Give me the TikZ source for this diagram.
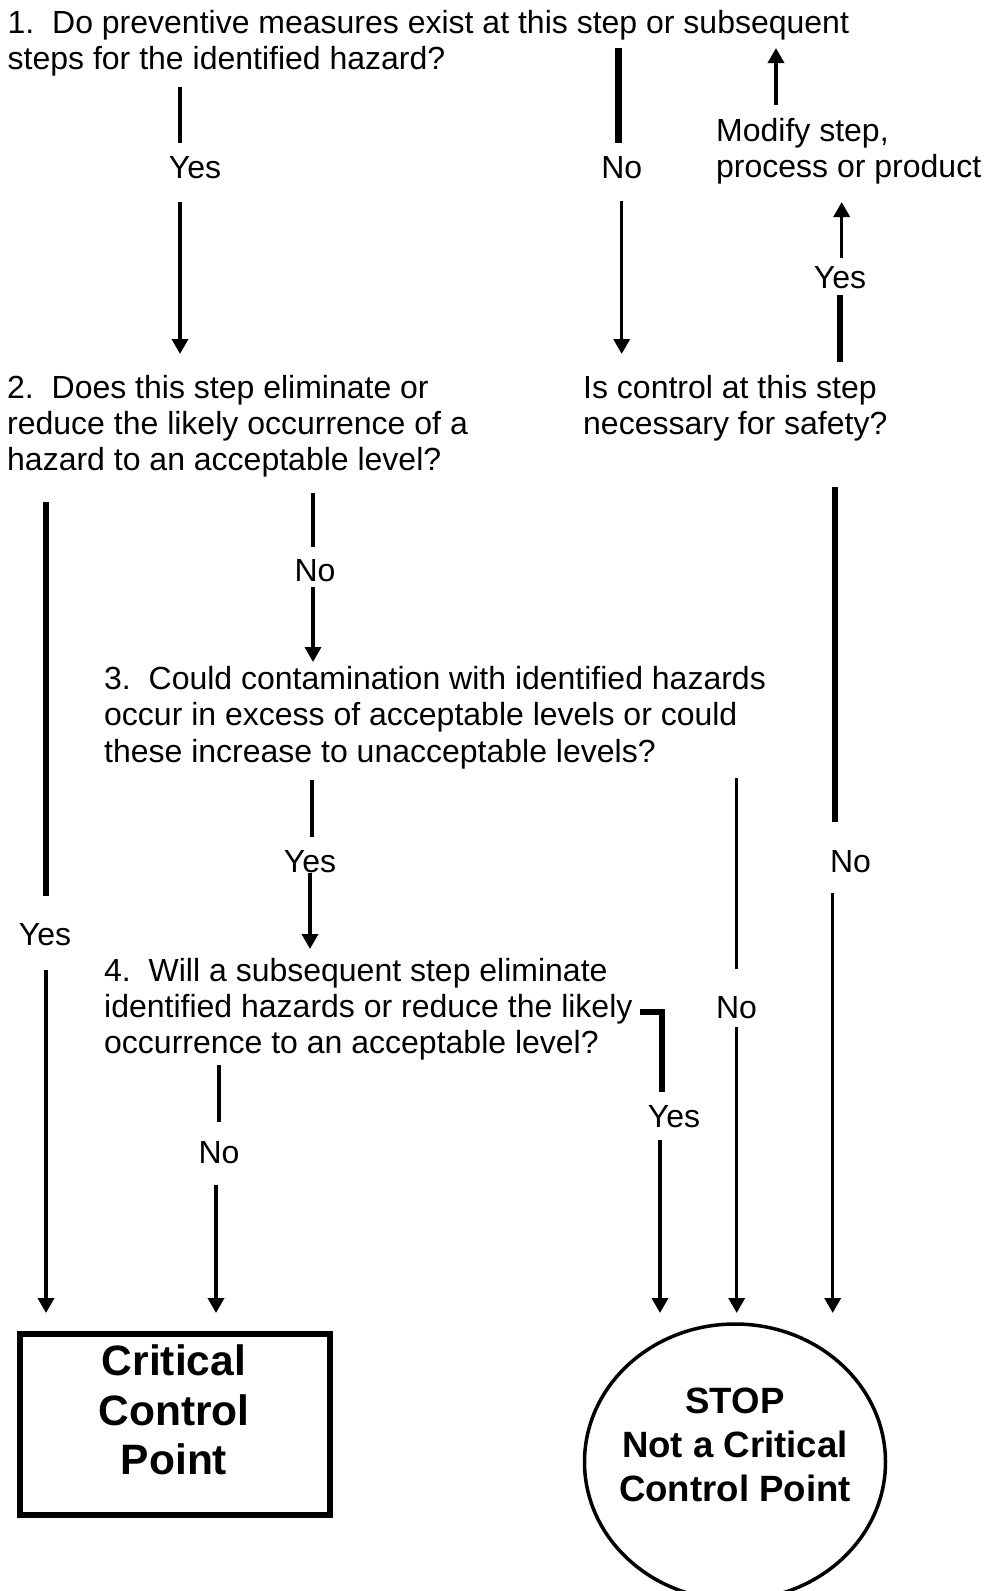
\documentclass[tikz,border=0pt]{standalone}
\usepackage{fontspec}
\setmainfont{Liberation Sans}
\usetikzlibrary{arrows.meta,shapes.geometric}
\begin{document}
\begin{tikzpicture}[x=1pt,y=-1pt,
  txt/.style={inner sep=0pt, anchor=base west, font=\fontsize{32}{36.3}\selectfont},
  lbl/.style={inner sep=0pt, anchor=base, font=\fontsize{32}{36.3}\selectfont},
  heavyline/.style={line width=6.5pt},
  midline/.style={line width=4.5pt},
  slimline/.style={line width=3.5pt},
  flowarrow/.style={line width=3.5pt, -{Triangle[width=16pt,length=15pt]}},
]
\clip (0,0) rectangle (985,1591);
\fill[white] (0,0) rectangle (985,1591);

% question texts
\node[txt] (q1) at (7.5,33.5) {\begin{tabular}[t]{@{}l@{}}1.\ \ Do preventive measures exist at this step or subsequent\\steps for the identified hazard?\end{tabular}};
\node[txt] (mod) at (716,141.5) {\begin{tabular}[t]{@{}l@{}}Modify step,\\process or product\end{tabular}};
\node[txt] (q2) at (7,398) {\begin{tabular}[t]{@{}l@{}}2.\ \ Does this step eliminate or\\reduce the likely occurrence of a\\hazard to an acceptable level?\end{tabular}};
\node[txt] (qc) at (583,398) {\begin{tabular}[t]{@{}l@{}}Is control at this step\\necessary for safety?\end{tabular}};
\node[txt] (q3) at (104,689.5) {\begin{tabular}[t]{@{}l@{}}3.\ \ Could contamination with identified hazards\\occur in excess of acceptable levels or could\\these increase to unacceptable levels?\end{tabular}};
\node[txt] (q4) at (104,981) {\begin{tabular}[t]{@{}l@{}}4.\ \ Will a subsequent step eliminate\\identified hazards or reduce the likely\\occurrence to an acceptable level?\end{tabular}};

% labels
\node[lbl] (l1yes) at (195,178.5) {Yes};
\node[lbl] (l1no) at (621.7,178.5) {No};
\node[lbl] (lmyes) at (840,288) {Yes};
\node[lbl] (l2no) at (315,581) {No};
\node[lbl] (l3yes) at (310,872) {Yes};
\node[lbl] (lcno) at (850.5,872) {No};
\node[lbl] (l2yes) at (45,945) {Yes};
\node[lbl] (l3no) at (736.5,1018) {No};
\node[lbl] (l4yes) at (674,1127) {Yes};
\node[lbl] (l4no) at (219,1163) {No};

% end nodes
\node[draw, line width=6pt, minimum width=310pt, minimum height=181pt, inner sep=0pt] (ccp) at (175,1424.5) {};
\node[inner sep=0pt, anchor=base, font=\fontsize{42.5}{49.7}\selectfont\bfseries] (ccptext) at (174,1375.5)
      {\begin{tabular}[t]{@{}c@{}}Critical\\Control\\Point\end{tabular}};
\node[draw, ellipse, line width=3.5pt, minimum width=301pt, minimum height=276pt, inner sep=0pt] (stop) at (735,1462) {};
\node[inner sep=0pt, anchor=base, font=\fontsize{36.6}{44}\selectfont\bfseries] (stoptext) at (735,1413)
      {\begin{tabular}[t]{@{}c@{}}STOP\\Not a Critical\\Control Point\end{tabular}};

% connector points
\coordinate (a1) at (180,87);   \coordinate (a2) at (180,143);
\coordinate (a3) at (180,202);  \coordinate (a4) at (180,354);
\coordinate (b1) at (618.3,48); \coordinate (b2) at (618.3,143);
\coordinate (b3) at (621.7,201);\coordinate (b4) at (621.7,354);
\coordinate (c1) at (776,105);  \coordinate (c2) at (776,48);
\coordinate (d1) at (840,362);  \coordinate (d2) at (840,295);
\coordinate (d3) at (841.7,258);\coordinate (d4) at (841.7,202);
\coordinate (e1) at (46,502);   \coordinate (e2) at (46,896);
\coordinate (e3) at (46,970);   \coordinate (e4) at (46,1313);
\coordinate (f1) at (313,493);  \coordinate (f2) at (313,547);
\coordinate (f3) at (313,587);  \coordinate (f4) at (313,662);
\coordinate (g1) at (835,487);  \coordinate (g2) at (835,822);
\coordinate (g3) at (832.7,893);\coordinate (g4) at (832.7,1313);
\coordinate (h1) at (312,780);  \coordinate (h2) at (312,837);
\coordinate (h3) at (310,873);  \coordinate (h4) at (310,949);
\coordinate (i1) at (736.7,778);\coordinate (i2) at (736.7,969);
\coordinate (i3) at (736.7,1027);\coordinate (i4) at (736.7,1313);
\coordinate (j1) at (640,1012); \coordinate (j2) at (662,1092);
\coordinate (j3) at (660,1140); \coordinate (j4) at (660,1313);
\coordinate (k1) at (219,1065); \coordinate (k2) at (219,1122);
\coordinate (k3) at (216,1185); \coordinate (k4) at (216,1313);

% connectors
\draw[midline] (a1) -- (a2);   \draw[flowarrow] (a3) -- (a4);
\draw[heavyline] (b1) -- (b2); \draw[flowarrow] (b3) -- (b4);
\draw[flowarrow] (c1) -- (c2);
\draw[heavyline] (d1) -- (d2); \draw[flowarrow] (d3) -- (d4);
\draw[heavyline] (e1) -- (e2); \draw[flowarrow] (e3) -- (e4);
\draw[midline] (f1) -- (f2);   \draw[flowarrow] (f3) -- (f4);
\draw[heavyline] (g1) -- (g2); \draw[flowarrow] (g3) -- (g4);
\draw[midline] (h1) -- (h2);   \draw[flowarrow] (h3) -- (h4);
\draw[slimline] (i1) -- (i2);  \draw[flowarrow] (i3) -- (i4);
\draw[heavyline] (j1) -| (j2); \draw[flowarrow] (j3) -- (j4);
\draw[midline] (k1) -- (k2);   \draw[flowarrow] (k3) -- (k4);
\end{tikzpicture}
\end{document}
